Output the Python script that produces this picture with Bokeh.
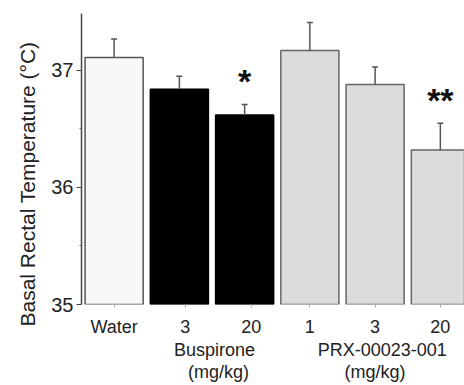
from bokeh.plotting import figure
from bokeh.models import Range1d, FixedTicker, ColumnDataSource, LinearAxis, Title
from bokeh.embed import file_html
from bokeh.resources import INLINE
from bokeh.core.properties import value

# ---- data ----
categories = ["Water", "3", "20", "1", "3", "20"]
group_names = ["Buspirone", "PRX-00023-001"]
group_units = ["(mg/kg)", "(mg/kg)"]
means = [37.11, 36.84, 36.62, 37.17, 36.88, 36.32]
sems = [0.16, 0.11, 0.09, 0.24, 0.15, 0.23]
signif = ["", "", "*", "", "", "**"]
y_ticks = [35, 36, 37]
y_label = "Basal Rectal Temperature (\u00b0C)"

# ---- styling ----
fills = ["#f8f8f8", "#000000", "#000000", "#dcdcdc", "#dcdcdc", "#dcdcdc"]
edges = ["#555555", "#000000", "#000000", "#666666", "#666666", "#666666"]
FONT = "Liberation Sans"

xs = list(range(len(categories)))
tick_pos = [0, 1.09, 2.1, 3, 4, 5]
name_pos = [1.54, 4.11]
unit_pos = [1.6, 4.0]
err_top = [m + s for m, s in zip(means, sems)]
star_y = [t + 0.2 for t in err_top]

src = ColumnDataSource(dict(x=xs, mean=means, top=err_top, fill=fills, edge=edges,
                            star=signif, star_y=star_y))

p = figure(width=464, height=385, output_backend="svg", toolbar_location=None,
           x_range=Range1d(-0.5, 5.37), y_range=Range1d(35, 37.487),
           min_border_left=81, min_border_right=0, min_border_top=13, min_border_bottom=81)
p.outline_line_color = None
p.grid.visible = False
p.background_fill_color = "white"

p.vbar(x="x", top="mean", bottom=35, width=0.89, fill_color="fill", line_color="edge",
       line_width=1.5, source=src)
p.segment(x0="x", y0="mean", x1="x", y1="top", line_color="#555555", line_width=1.5, source=src)
p.dash(x="x", y="top", size=6, line_color="#555555", line_width=1.5, source=src)
p.text(x="x", y="star_y", text="star", text_font=value(FONT), text_font_style="bold",
       text_font_size="34px", text_align="center", text_baseline="middle",
       text_color="#111111", source=src)

# y axis
ya = p.yaxis[0]
ya.ticker = FixedTicker(ticks=y_ticks, minor_ticks=[35.5, 36.5])
ya.axis_line_color = "#444444"
ya.axis_line_width = 1.5
ya.major_tick_line_color = "#444444"
ya.major_tick_line_width = 1.2
ya.major_tick_out = 5
ya.major_tick_in = 0
ya.minor_tick_line_color = "#666666"
ya.minor_tick_out = 2
ya.minor_tick_in = 0
ya.major_label_text_font = FONT
ya.major_label_text_font_size = "20px"
ya.major_label_text_color = "#222222"
ya.major_label_standoff = 3

# x axis
xa = p.xaxis[0]
xa.ticker = FixedTicker(ticks=tick_pos)
xa.major_label_overrides = {t: c for t, c in zip(tick_pos, categories)}
xa.axis_line_color = None
xa.major_tick_line_color = "#aaaaaa"
xa.major_tick_out = 3
xa.major_tick_in = 0
xa.minor_tick_line_color = None
xa.major_label_text_font = FONT
xa.major_label_text_font_size = "18px"
xa.major_label_text_color = "#222222"
xa.major_label_text_line_height = 1.0
xa.major_label_standoff = 9


def label_axis(ticks, labels, standoff):
    ax = LinearAxis(ticker=FixedTicker(ticks=ticks),
                    major_label_overrides={t: s for t, s in zip(ticks, labels)})
    ax.axis_line_color = None
    ax.major_tick_line_color = None
    ax.major_tick_out = 0
    ax.major_tick_in = 0
    ax.minor_tick_line_color = None
    ax.minor_tick_out = 0
    ax.minor_tick_in = 0
    ax.major_label_text_font = FONT
    ax.major_label_text_font_size = "18px"
    ax.major_label_text_color = "#222222"
    ax.major_label_text_line_height = 1.0
    ax.major_label_standoff = standoff
    return ax


p.add_layout(label_axis(name_pos, group_names, 0), "below")
p.add_layout(label_axis(unit_pos, group_units, -1), "below")

# y axis title
title = Title(text=y_label, align="left", offset=-22, text_font=FONT,
              text_font_size="21px", text_font_style="normal", text_color="#222222")
if "standoff" in Title.properties():
    title.standoff = 20
p.add_layout(title, "left")

open("out.html", "w").write(file_html(p, INLINE))
